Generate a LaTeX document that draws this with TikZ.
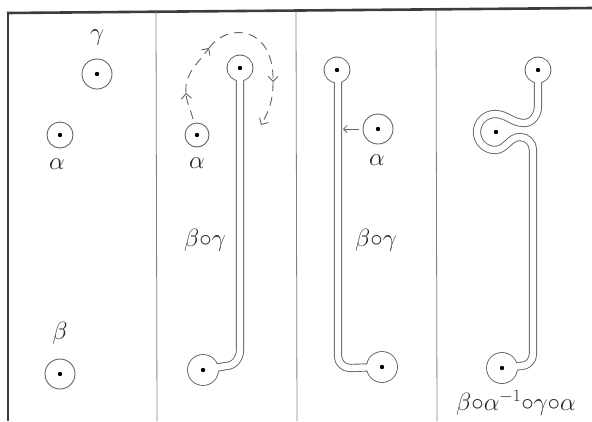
\documentclass[tikz,border=0pt]{standalone}
\usepackage{amsmath,amssymb}
\usepackage{tikz}
\usetikzlibrary{arrows.meta,positioning,calc}
\definecolor{ink}{HTML}{3C3C3C}
\definecolor{pencil}{HTML}{626262}

\begin{document}
\begin{tikzpicture}[
    x=1pt,y=1pt,
    frame/.style={draw=pencil!80,line width=0.8pt},
    punct/.style={circle,draw=pencil,line width=0.9pt,minimum size=28pt,inner sep=0pt},
    lbl/.style={font=\fontsize{26}{30}\selectfont,text=black!85,inner sep=0pt},
    tube/.style={line join=round,line cap=round},
    dasharr/.style={draw=pencil,line width=0.9pt,dash pattern=on 9pt off 6pt,-{Straight Barb[length=5pt,width=10pt]}},
    arr/.style={draw=pencil,line width=0.8pt,-{Straight Barb[length=3.5pt,width=7pt]}}
  ]
  \useasboundingbox (0,0) rectangle (592,-421);
  \draw[ink,line width=2.6pt] (7,-13) -- (592,-8);
  \draw[ink,line width=2pt] (8,-13) -- (8,-421);
  \draw[frame] (156,-12) -- (157,-421);
  \draw[frame] (296,-11) -- (297,-421);
  \draw[frame] (436,-10) -- (437,-421);

  \node[punct,minimum size=30pt] (g1) at (97,-74) {};
  \node[punct,minimum size=26pt] (a1) at (60,-135) {};
  \node[punct,minimum size=30pt] (b1) at (60,-374) {};
  \node[lbl] (lg1) at (97,-38) {$\gamma$};
  \node[lbl] (la1) at (57,-164) {$\alpha$};
  \node[lbl] (lb1) at (60,-333) {$\beta$};

  \coordinate (t2) at (240,-68);
  \coordinate (u2) at (203,-370);
  \coordinate (t3) at (337,-70);
  \coordinate (u3) at (382,-367);
  \coordinate (t4) at (538,-70);
  \coordinate (u4) at (502,-368);
  \coordinate (a4) at (496,-132);
  \foreach \c/\w/\e in {pencil/8.2/0.9,white/6.4/0}{
    \draw[tube,draw=\c,line width=\w pt] (t2) -- (240,-350) to[out=-90,in=0] (226,-366) -- (u2);
    \draw[tube,draw=\c,line width=\w pt] (t3) -- (338,-84) -- (338,-356) to[out=-90,in=180] (350,-368) -- (u3);
    \draw[tube,draw=\c,line width=\w pt] (t4) -- (538,-106) to[out=-90,in=0] (524,-123)
      to[out=180,in=0] (495,-114) arc[start angle=90,end angle=270,radius=18]
      to[out=0,in=180] (520,-137) to[out=0,in=90] (533,-150) -- (533,-354)
      to[out=-90,in=0] (521,-366) -- (u4);
    \fill[\c] (t2) circle[radius=12.5+\e] (u2) circle[radius=15+\e]
      (t3) circle[radius=12.5+\e] (u3) circle[radius=15+\e]
      (t4) circle[radius=12.5+\e] (u4) circle[radius=15+\e];
  }

  \node[punct,minimum size=24pt] (a2) at (197,-135) {};
  \node[lbl] (la2) at (197,-163) {$\alpha$};
  \node[lbl] (bg2) at (205,-240) {$\beta{\circ}\gamma$};
  \coordinate (d0) at (193,-119);
  \coordinate (d1) at (186,-93);
  \coordinate (d2) at (209,-48);
  \coordinate (d3) at (273,-82);
  \coordinate (d4) at (261,-125);
  \draw[dasharr] (d0) to[out=105,in=-85] (d1);
  \draw[dasharr] (d1) to[out=95,in=-125] (d2);
  \draw[dasharr] (d2) .. controls (228,-22) and (274,-26) .. (d3);
  \draw[dasharr] (d3) to[out=-90,in=60] (d4);

  \node[punct,minimum size=30pt] (a3) at (378,-129) {};
  \node[lbl] (la3) at (377,-160) {$\alpha$};
  \node[lbl] (bg3) at (376,-240) {$\beta{\circ}\gamma$};
  \coordinate (s3) at (343,-129);
  \draw[arr,shorten <=4pt] (a3) -- (s3);

  \node[lbl] (bagb) at (516,-403) {$\beta{\circ}\alpha^{-1}{\circ}\gamma{\circ}\alpha$};

  \foreach \n in {g1,a1,b1,a2,a3,t2,u2,t3,u3,t4,u4,a4}
    \fill[black] (\n) circle[radius=2.2];
\end{tikzpicture}
\end{document}
